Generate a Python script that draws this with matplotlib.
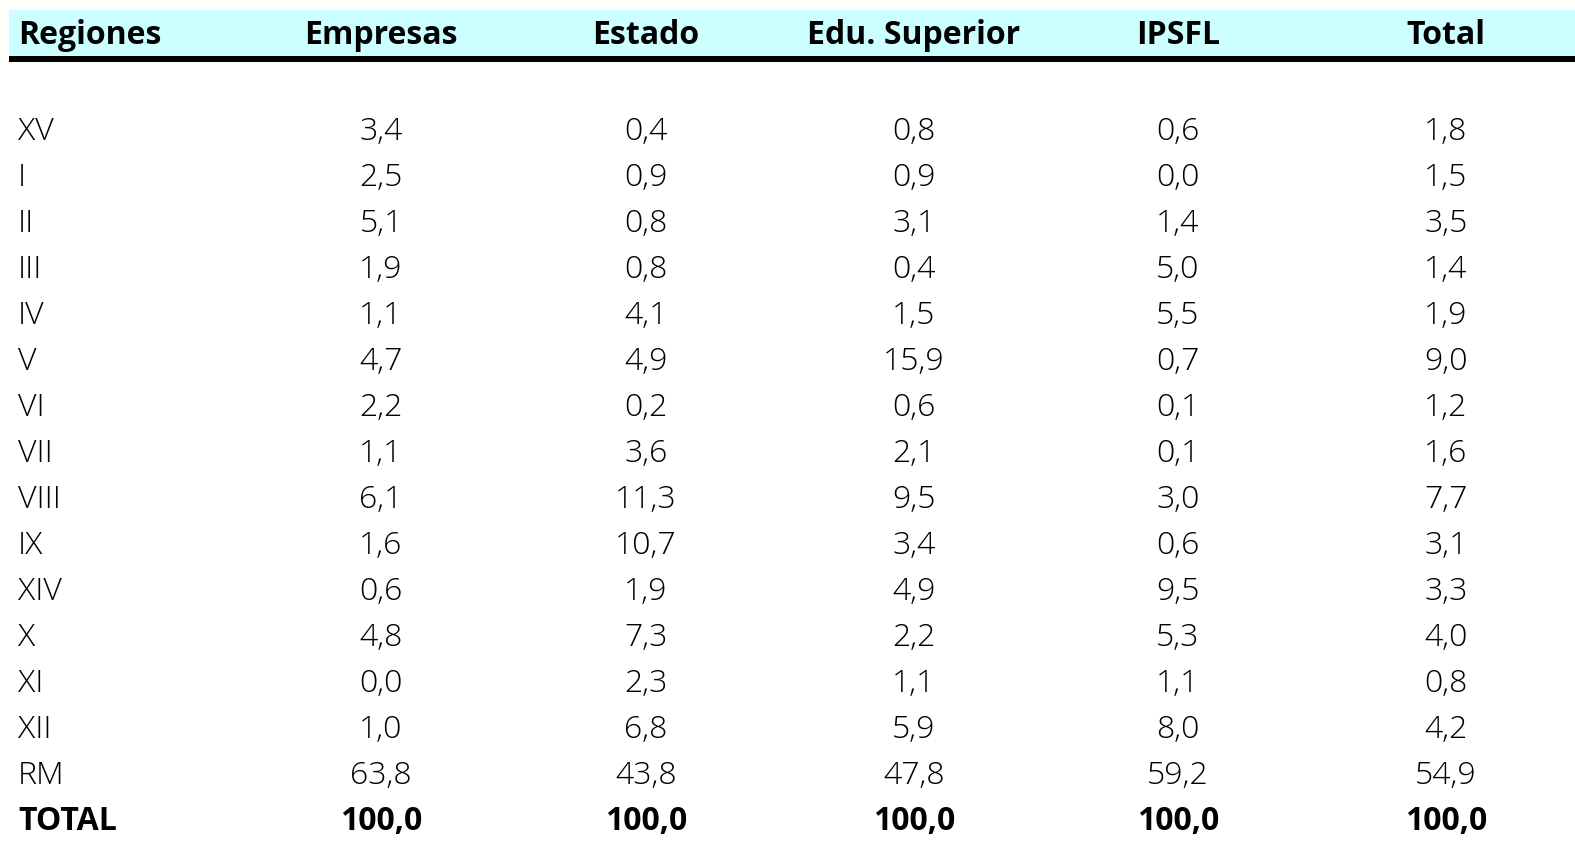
import matplotlib.pyplot as plt
from matplotlib.patches import Rectangle

regiones = ['XV', 'I', 'II', 'III', 'IV', 'V', 'VI', 'VII', 'VIII', 'IX',
            'XIV', 'X', 'XI', 'XII', 'RM', 'TOTAL']
columnas = ['Empresas', 'Estado', 'Edu. Superior', 'IPSFL', 'Total']

empresas = [3.4, 2.5, 5.1, 1.9, 1.1, 4.7, 2.2, 1.1, 6.1, 1.6, 0.6, 4.8, 0.0, 1.0, 63.8, 100.0]
estado = [0.4, 0.9, 0.8, 0.8, 4.1, 4.9, 0.2, 3.6, 11.3, 10.7, 1.9, 7.3, 2.3, 6.8, 43.8, 100.0]
edu_superior = [0.8, 0.9, 3.1, 0.4, 1.5, 15.9, 0.6, 2.1, 9.5, 3.4, 4.9, 2.2, 1.1, 5.9, 47.8, 100.0]
ipsfl = [0.6, 0.0, 1.4, 5.0, 5.5, 0.7, 0.1, 0.1, 3.0, 0.6, 9.5, 5.3, 1.1, 8.0, 59.2, 100.0]
total = [1.8, 1.5, 3.5, 1.4, 1.9, 9.0, 1.2, 1.6, 7.7, 3.1, 3.3, 4.0, 0.8, 4.2, 54.9, 100.0]

series = [empresas, estado, edu_superior, ipsfl, total]

plt.rcParams['font.family'] = ['Open Sans', 'DejaVu Sans']

fig = plt.figure(figsize=(15.75, 8.45), dpi=100)
fig.patch.set_facecolor('#fffffd')
ax = fig.add_axes([0, 0, 1, 1])
ax.set_xlim(0, 1575)
ax.set_ylim(845, 0)
ax.axis('off')

# header band and rule
ax.add_patch(Rectangle((9, 11), 1566, 47, facecolor='#ccffff', edgecolor='none'))
ax.add_patch(Rectangle((9, 57), 1566, 6, facecolor='black', edgecolor='none'))

col_x = [381, 646, 914, 1178, 1446]
head_y = 36

ax.text(18, head_y, 'Regiones', fontsize=23, fontweight='bold', ha='left', va='center')
for x, c in zip(col_x, columnas):
    ax.text(x, head_y, c, fontsize=23, fontweight='bold', ha='center', va='center')

row_y0, row_dy = 132, 46
for i, reg in enumerate(regiones):
    y = row_y0 + i * row_dy
    bold = reg == 'TOTAL'
    w = 'bold' if bold else 'light'
    ax.text(18, y, reg, fontsize=23, fontweight=w, ha='left', va='center')
    for x, s in zip(col_x, series):
        lab = f'{s[i]:.1f}'.replace('.', ',')
        ax.text(x, y, lab, fontsize=23, fontweight=w, ha='center', va='center')

fig.savefig('out.png', dpi=100, facecolor=fig.get_facecolor())
